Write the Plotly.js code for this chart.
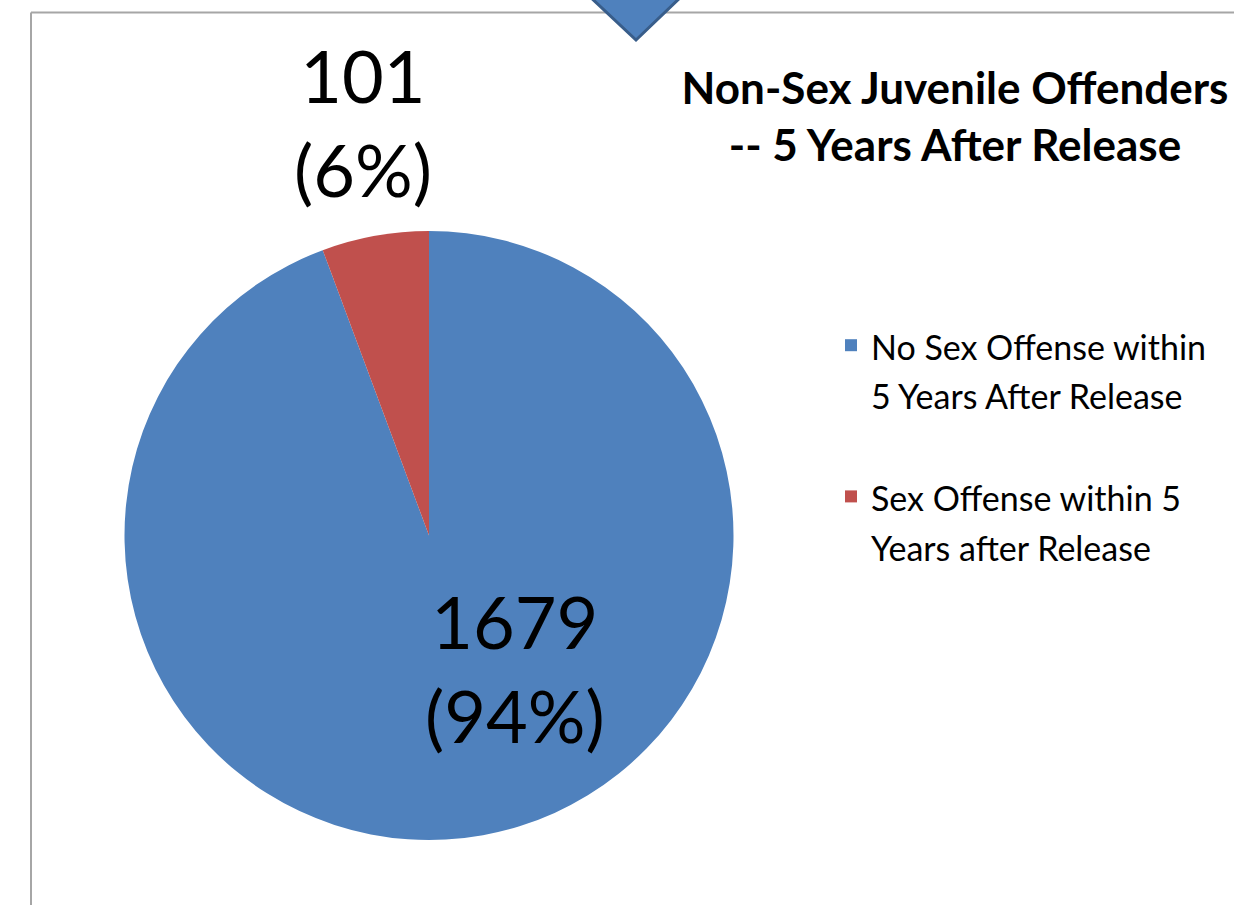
<!DOCTYPE html>
<html>
<head>
<meta charset="utf-8">
<script src="https://cdn.plot.ly/plotly-3.0.1.min.js"></script>
<style>
  html, body { margin: 0; padding: 0; background: #ffffff; }
  #chart { width: 1234px; height: 905px; }
</style>
</head>
<body>
<div id="chart"></div>
<script>
// ---- data ----
const categories = [
  'No Sex Offense within<br>5 Years After Release',
  'Sex Offense within 5<br>Years after Release'
];
const counts = [1679, 101];
const colors = ['#4F81BD', '#C0504D'];
const chartTitle = 'Non-Sex Juvenile Offenders<br>-- 5 Years After Release';

const total = counts.reduce((a, b) => a + b, 0);
const pct = counts.map(v => Math.round(v / total * 100));

const W = 1234, H = 905;
const px = x => x / W;
const py = y => 1 - y / H;

const FONT = 'Lato, "Open Sans", sans-serif';

const trace = {
  type: 'pie',
  labels: categories.map(c => '<span style="font-size:34px">' + c.replace('<br>', '</span><br><span style="font-size:34px">') + '</span><br> '),
  values: counts,
  marker: { colors: colors, line: { color: '#ffffff', width: 0 } },
  sort: false,
  direction: 'clockwise',
  rotation: 0,
  textinfo: 'none',
  hoverinfo: 'value+percent',
  domain: { x: [px(124), px(734)], y: [py(840), py(231)] }
};

const labelPos = [[515, 576], [363, 30]];
const annotations = counts.map((v, i) => ({
  xref: 'paper', yref: 'paper',
  x: px(labelPos[i][0]), y: py(labelPos[i][1]),
  xanchor: 'center', yanchor: 'top',
  text: v + '<br>(' + pct[i] + '%)',
  showarrow: false,
  font: { family: FONT, size: 72, color: '#000000' }
}));

const layout = {
  width: W, height: H,
  margin: { l: 0, r: 0, t: 0, b: 0 },
  paper_bgcolor: '#ffffff',
  title: {
    text: chartTitle,
    font: { family: FONT, size: 44, color: '#000000', weight: 'bold' },
    x: px(955), xanchor: 'center',
    y: py(104), yanchor: 'top',
    xref: 'paper', yref: 'container'
  },
  showlegend: true,
  legend: {
    x: px(831), xanchor: 'left',
    y: py(314), yanchor: 'top',
    valign: 'top',
    font: { family: FONT, size: 38, color: '#000000' },
    bgcolor: 'rgba(0,0,0,0)'
  },
  annotations: annotations,
  shapes: [
    { type: 'line', xref: 'paper', yref: 'paper', x0: px(31), x1: 1, y0: py(12.5), y1: py(12.5),
      line: { color: '#A6A6A6', width: 2 } },
    { type: 'line', xref: 'paper', yref: 'paper', x0: px(31), x1: px(31), y0: py(12.5), y1: 0,
      line: { color: '#A6A6A6', width: 2 } },
    { type: 'path', xref: 'paper', yref: 'paper',
      path: 'M' + px(587) + ',' + py(-6) + ' L' + px(684) + ',' + py(-6) + ' L' + px(636) + ',' + py(40) + ' Z',
      fillcolor: '#4F81BD', line: { color: '#385D8A', width: 3 } }
  ]
};

Plotly.newPlot('chart', [trace], layout, { displayModeBar: false, staticPlot: true });
</script>
</body>
</html>
